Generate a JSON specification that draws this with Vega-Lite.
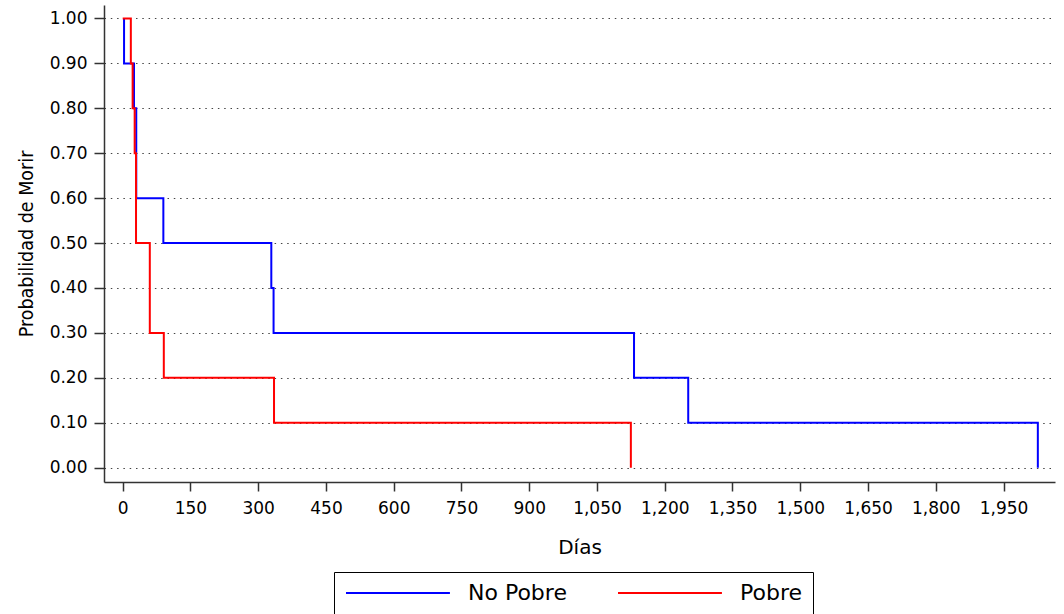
{
  "$schema": "https://vega.github.io/schema/vega-lite/v6.json",
  "width": 951,
  "height": 477,
  "autosize": {"type": "none"},
  "padding": {"left": 104, "top": 5, "right": 9, "bottom": 132},
  "background": "white",
  "data": {
    "values": [
      {"grupo": "No Pobre", "i": 0, "dias": 3, "prob": 1.0},
      {"grupo": "No Pobre", "i": 1, "dias": 3, "prob": 0.9},
      {"grupo": "No Pobre", "i": 2, "dias": 25, "prob": 0.8},
      {"grupo": "No Pobre", "i": 3, "dias": 30, "prob": 0.6},
      {"grupo": "No Pobre", "i": 4, "dias": 90, "prob": 0.5},
      {"grupo": "No Pobre", "i": 5, "dias": 329, "prob": 0.4},
      {"grupo": "No Pobre", "i": 6, "dias": 334, "prob": 0.3},
      {"grupo": "No Pobre", "i": 7, "dias": 1132, "prob": 0.2},
      {"grupo": "No Pobre", "i": 8, "dias": 1252, "prob": 0.1},
      {"grupo": "No Pobre", "i": 9, "dias": 2026, "prob": 0.0},
      {"grupo": "Pobre", "i": 0, "dias": 0, "prob": 1.0},
      {"grupo": "Pobre", "i": 1, "dias": 18, "prob": 0.9},
      {"grupo": "Pobre", "i": 2, "dias": 22, "prob": 0.8},
      {"grupo": "Pobre", "i": 3, "dias": 26.5, "prob": 0.7},
      {"grupo": "Pobre", "i": 4, "dias": 29.5, "prob": 0.5},
      {"grupo": "Pobre", "i": 5, "dias": 60, "prob": 0.3},
      {"grupo": "Pobre", "i": 6, "dias": 91, "prob": 0.2},
      {"grupo": "Pobre", "i": 7, "dias": 335, "prob": 0.1},
      {"grupo": "Pobre", "i": 8, "dias": 1125, "prob": 0.0}
    ]
  },
  "mark": {"type": "line", "interpolate": "step-after", "strokeWidth": 2},
  "encoding": {
    "x": {
      "field": "dias",
      "type": "quantitative",
      "scale": {"domain": [-41.4, 2064], "nice": false, "zero": false},
      "axis": {
        "values": [0, 150, 300, 450, 600, 750, 900, 1050, 1200, 1350, 1500, 1650, 1800, 1950],
        "format": ",d",
        "title": "Días",
        "grid": false,
        "tickSize": 9,
        "labelPadding": 9,
        "labelFontSize": 17,
        "titleFontSize": 20,
        "titlePadding": 21
      }
    },
    "y": {
      "field": "prob",
      "type": "quantitative",
      "scale": {"domain": [-0.032, 1.03], "nice": false, "zero": false},
      "axis": {
        "values": [0, 0.1, 0.2, 0.3, 0.4, 0.5, 0.6, 0.7, 0.8, 0.9, 1.0],
        "format": ".2f",
        "title": "Probabilidad de Morir",
        "grid": true,
        "gridDash": [1.5, 4.8],
        "gridColor": "#444",
        "gridWidth": 1,
        "tickSize": 10,
        "labelPadding": 7,
        "labelFontSize": 17,
        "titleFont": "DejaVu Sans Condensed, DejaVu Sans, sans-serif",
        "titleFontSize": 19.5,
        "titlePadding": 13
      }
    },
    "color": {
      "field": "grupo",
      "type": "nominal",
      "scale": {"domain": ["No Pobre", "Pobre"], "range": ["#0000ff", "#ff0000"]},
      "legend": {
        "orient": "none",
        "legendX": 230,
        "legendY": 567,
        "direction": "horizontal",
        "title": null,
        "symbolType": "M0,0H20",
        "symbolSize": 108,
        "symbolStrokeWidth": 2,
        "symbolOffset": -9,
        "labelOffset": 111,
        "labelFontSize": 22,
        "labelFont": "DejaVu Sans",
        "labelColor": "black",
        "columnPadding": 47,
        "padding": 10,
        "strokeColor": "black",
        "fillColor": "white"
      }
    },
    "order": {"field": "i", "type": "quantitative"}
  },
  "config": {
    "view": {"stroke": null},
    "font": "DejaVu Sans",
    "axis": {
      "domainColor": "#333",
      "domainWidth": 1.5,
      "tickColor": "#333",
      "tickWidth": 1.5,
      "labelColor": "black",
      "titleColor": "black",
      "titleFontWeight": "normal",
      "labelFont": "DejaVu Sans",
      "titleFont": "DejaVu Sans"
    }
  }
}
